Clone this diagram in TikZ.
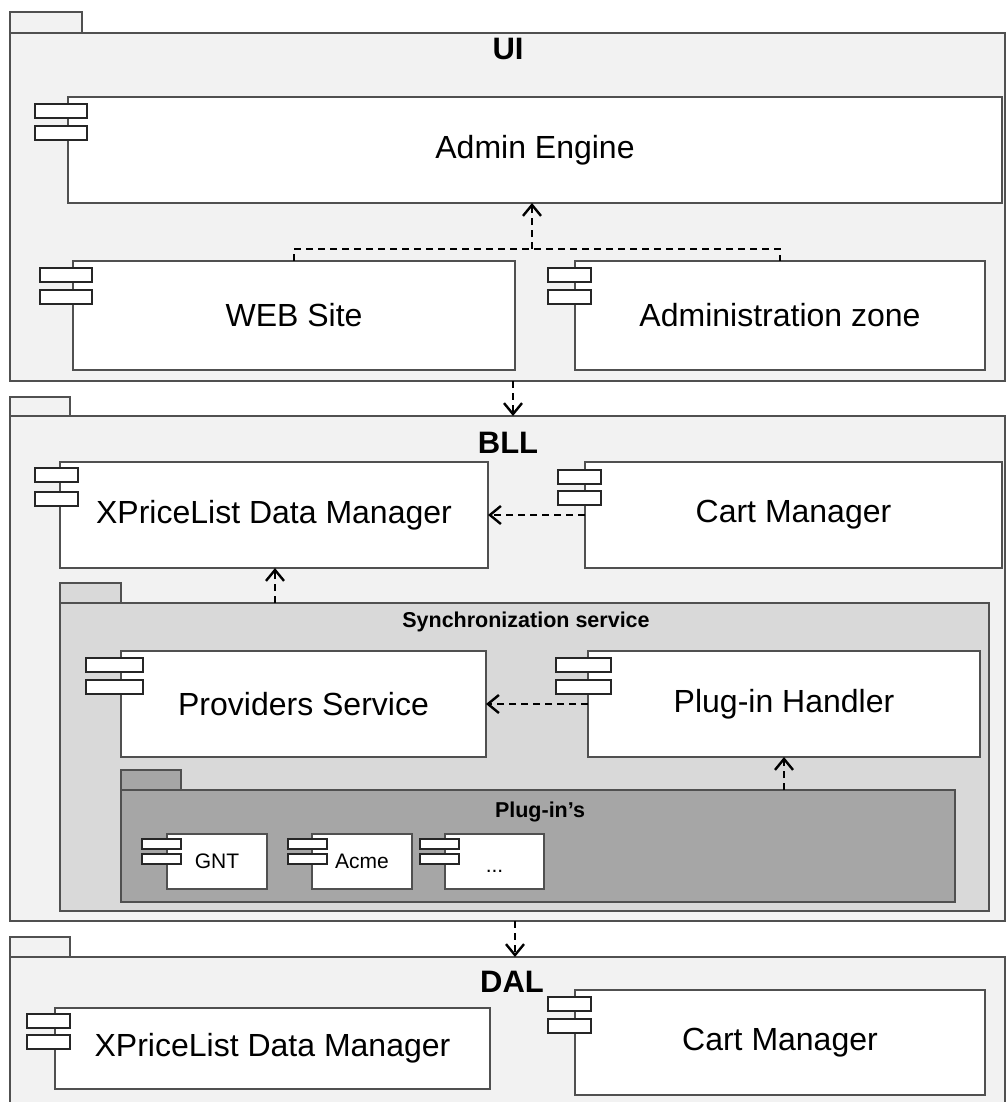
\documentclass[tikz,border=0pt]{standalone}
\usepackage{fontspec}
\setmainfont{Liberation Sans}
\usetikzlibrary{arrows.meta}
\definecolor{pkgA}{HTML}{F2F2F2}
\definecolor{pkgB}{HTML}{D9D9D9}
\definecolor{pkgC}{HTML}{A6A6A6}
\definecolor{edgec}{HTML}{505050}
\newcommand\compicons[5]{%
  \draw[iconbox] (#1,#2) rectangle ++(#3,#5);
  \draw[iconbox] (#1,#4) rectangle ++(#3,#5);}
\begin{document}
\begin{tikzpicture}[x=1pt,y=-1pt,
  pkg/.style={draw=edgec, line width=1.3pt, inner sep=0pt, outer sep=0pt, anchor=north west},
  pkgtab/.style={draw=edgec, line width=1.3pt},
  comp/.style={draw=edgec, fill=white, line width=1.3pt, inner sep=0pt, outer sep=0pt, anchor=north west, font=\fontsize{32}{37}\selectfont},
  smallcomp/.style={comp, font=\fontsize{21}{24}\selectfont},
  iconbox/.style={draw=black!85, fill=white, line width=1.1pt},
  pkgtitle/.style={font=\bfseries\fontsize{31}{35}\selectfont, inner sep=0pt},
  subtitle/.style={font=\bfseries\fontsize{21.5}{24}\selectfont, inner sep=0pt},
  depline/.style={draw=black, line width=2.4pt, dash pattern=on 7pt off 5pt},
  dep/.style={depline, -{Straight Barb[length=11pt,width=18pt]}}]
\clip (0,0) rectangle (1006,1102);
\fill[white] (0,0) rectangle (1006,1102);

% ---------------- UI ----------------
\draw[pkgtab, fill=pkgA] (10,12) rectangle (82,33);
\node[pkg, fill=pkgA, minimum width=995pt, minimum height=348pt] (ui) at (10,33) {};
\node[pkgtitle] (uit) at (508,49) {UI};
\node[comp, minimum width=934pt, minimum height=106pt] (admin) at (68,97) {Admin Engine};
\compicons{35}{104}{52}{126}{14}
\node[comp, minimum width=442pt, minimum height=109pt] (web) at (73,261) {WEB Site};
\compicons{40}{268}{52}{290}{14}
\node[comp, minimum width=410pt, minimum height=109pt] (azone) at (575,261) {Administration zone};
\compicons{548}{268}{43}{290}{14}
\coordinate (j1) at (532,249);
\draw[depline] (web.north) |- (j1) -| (azone.north);
\draw[dep] (j1) -- (j1 |- admin.south);

% ---------------- BLL ----------------
\draw[pkgtab, fill=pkgA] (10,397) rectangle (70,416);
\node[pkg, fill=pkgA, minimum width=995pt, minimum height=505pt] (bll) at (10,416) {};
\node[pkgtitle] (bllt) at (508,443) {BLL};
\node[comp, minimum width=428pt, minimum height=106pt] (xpl) at (60,462) {XPriceList Data Manager};
\compicons{35}{468}{43}{492}{14}
\node[comp, minimum width=417pt, minimum height=106pt] (cart) at (585,462) {Cart Manager};
\compicons{558}{470}{43}{491}{14}
\draw[dep] (cart.west) -- (xpl.east);

% Synchronization service
\draw[pkgtab, fill=pkgB] (60,583) rectangle (121,603);
\node[pkg, fill=pkgB, minimum width=929pt, minimum height=308pt] (sync) at (60,603) {};
\node[subtitle] (synct) at (526,622) {Synchronization service};
\coordinate (c2) at (275,0);
\draw[dep] (c2 |- sync.north) -- (c2 |- xpl.south);
\node[comp, minimum width=365pt, minimum height=106pt] (prov) at (121,651) {Providers Service};
\compicons{86}{658}{57}{680}{14}
\node[comp, minimum width=392pt, minimum height=106pt] (handler) at (588,651) {Plug-in Handler};
\compicons{556}{658}{55}{680}{14}
\draw[dep] (handler.west) -- (prov.east);

% Plug-in's
\draw[pkgtab, fill=pkgC] (121,770) rectangle (181,790);
\node[pkg, fill=pkgC, minimum width=834pt, minimum height=112pt] (plugins) at (121,790) {};
\node[subtitle] (plugt) at (540,812) {Plug-in’s};
\coordinate (c3) at (784,0);
\draw[dep] (c3 |- plugins.north) -- (c3 |- handler.south);
\node[smallcomp, minimum width=100pt, minimum height=55pt] (gnt) at (167,834) {GNT};
\compicons{142}{839}{39}{854}{10}
\node[smallcomp, minimum width=100pt, minimum height=55pt] (acme) at (312,834) {Acme};
\compicons{288}{839}{39}{854}{10}
\node[smallcomp, minimum width=99pt, minimum height=55pt] (more) at (445,834) {\raisebox{-0.5em}[0pt][0pt]{...}};
\compicons{420}{839}{39}{854}{10}

\coordinate (c1) at (513,0);
\draw[dep] (c1 |- ui.south) -- (c1 |- bll.north);

% ---------------- DAL ----------------
\draw[pkgtab, fill=pkgA] (10,937) rectangle (70,957);
\node[pkg, fill=pkgA, minimum width=995pt, minimum height=170pt] (dal) at (10,957) {};
\node[pkgtitle] (dalt) at (512,982) {DAL};
\node[comp, minimum width=435pt, minimum height=81pt] (xpl2) at (55,1008) {XPriceList Data Manager};
\compicons{27}{1014}{43}{1035}{14}
\node[comp, minimum width=410pt, minimum height=105pt] (cart2) at (575,990) {Cart Manager};
\compicons{548}{997}{43}{1019}{14}

\coordinate (c4) at (515,0);
\draw[dep] (c4 |- bll.south) -- (c4 |- dal.north);
\end{tikzpicture}
\end{document}
